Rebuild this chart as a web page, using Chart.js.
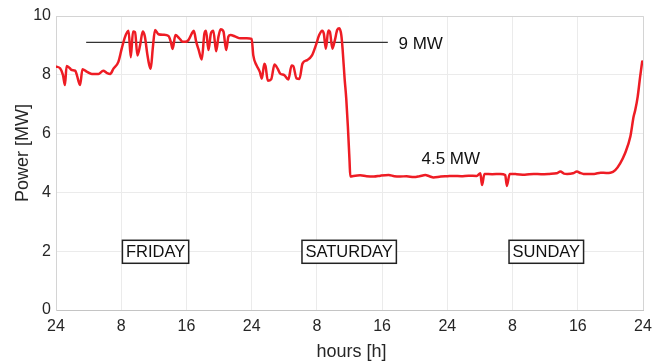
<!DOCTYPE html>
<html><head><meta charset="utf-8">
<script src="https://cdn.jsdelivr.net/npm/chart.js@4"></script>
<style>html,body{margin:0;padding:0;background:#fff;}canvas{display:block}</style>
</head><body>
<canvas id="c" width="666" height="361"></canvas>
<script>
const hours = [0,0.5,0.85,1.1,1.3,1.7,1.95,2.35,2.55,2.95,3.25,3.75,4.4,5.2,5.8,6.2,6.65,7.05,7.65,8.06,8.47,8.75,8.9,9.17,9.45,9.7,9.98,10.31,10.64,10.9,11.2,11.45,11.62,11.87,12.15,12.56,13.2,13.8,14.1,14.3,14.65,15.1,15.5,15.85,16.24,16.65,16.9,17.2,17.5,17.88,18.2,18.4,18.7,19.0,19.3,19.64,19.93,20.2,20.54,20.87,21.15,21.4,22.0,22.6,23.4,24.0,24.2,24.6,25.0,25.25,25.55,25.7,25.98,26.4,26.8,27.2,27.5,28.0,28.5,28.9,29.1,29.5,29.86,30.23,30.8,31.4,31.87,32.28,32.65,32.85,33.1,33.4,33.6,33.9,34.2,34.5,34.75,35.0,35.15,35.4,35.6,35.8,36.0,36.1,36.5,37.3,38.1,39.0,39.8,40.8,41.5,42.2,43.0,43.9,44.6,45.3,45.8,46.3,47.2,48.0,48.8,49.7,50.6,51.6,52.05,52.25,52.55,53.5,54.5,55.1,55.3,55.65,56.5,57.5,58.6,59.5,60.5,61.4,61.87,62.3,62.7,63.4,63.9,64.3,64.7,65.5,66.0,66.8,67.5,68.0,68.6,69.2,69.8,70.45,70.85,71.05,71.35,71.65,71.9];
const powerMW = [8.28,8.22,8.0,7.65,8.3,8.22,8.16,8.14,8.0,7.65,8.19,8.11,8.03,8.03,8.14,8.07,8.03,8.21,8.44,8.89,9.29,9.46,9.5,8.6,9.47,9.45,8.66,9.0,9.47,9.3,8.7,8.32,8.21,8.9,9.52,9.38,9.36,9.32,9.1,8.88,9.35,9.25,9.13,9.12,9.18,9.4,9.5,9.12,8.85,8.52,9.4,9.5,8.84,9.41,9.5,8.8,9.3,9.55,9.47,8.84,9.3,9.35,9.3,9.24,9.24,9.22,8.66,8.32,8.1,7.87,8.38,8.3,7.8,7.85,8.35,8.2,8.04,7.99,7.84,8.32,8.3,7.88,7.86,8.38,8.5,8.66,9.0,9.35,9.5,9.4,8.89,9.51,9.46,8.89,9.17,9.53,9.58,9.34,8.89,7.87,7.2,6.24,5.1,4.54,4.56,4.58,4.55,4.54,4.57,4.59,4.55,4.54,4.55,4.52,4.55,4.59,4.55,4.51,4.54,4.55,4.56,4.55,4.57,4.56,4.65,4.25,4.63,4.62,4.63,4.59,4.22,4.63,4.62,4.6,4.63,4.62,4.63,4.65,4.71,4.64,4.63,4.65,4.71,4.66,4.63,4.63,4.63,4.67,4.66,4.67,4.76,4.99,5.33,5.9,6.58,6.8,7.26,7.94,8.45];
const refLineHours = [3.7, 40.7];
const refLineMW = [9.1, 9.1];
const xTicks = [0,8,16,24,32,40,48,56,64,72];
const xTickLabels = ['24','8','16','24','8','16','24','8','16','24'];
const yTicks = [0,2,4,6,8,10];
const noteTexts = ['9 MW','4.5 MW'];
const noteHours = [44.73, 48.42];
const noteMW = [9.05, 5.14];
const dayNames = ['FRIDAY','SATURDAY','SUNDAY'];
const dayHours = [12.21, 35.96, 60.14];
const dayMW = [1.98, 1.98, 1.98];
const xTitle = 'hours [h]';
const yTitle = 'Power [MW]';

const FONT = "'Liberation Sans', Arial, Helvetica, sans-serif";

const overlay = {
  id: 'overlay',
  afterDatasetsDraw(chart) {
    const c = chart.ctx, xs = chart.scales.x, ys = chart.scales.y, a = chart.chartArea;
    c.save();
    c.strokeStyle = '#d4d4d4'; c.lineWidth = 1;
    c.beginPath();
    c.moveTo(a.left, a.top + 0.5); c.lineTo(a.right + 0.5, a.top + 0.5); c.lineTo(a.right + 0.5, a.bottom);
    c.stroke();
    c.fillStyle = '#111';
    c.font = '17px ' + FONT;
    c.textAlign = 'center'; c.textBaseline = 'middle';
    noteTexts.forEach((t, i) => {
      c.fillText(t, xs.getPixelForValue(noteHours[i]), ys.getPixelForValue(noteMW[i]));
    });
    c.font = '16.5px ' + FONT;
    dayNames.forEach((t, i) => {
      const cx = xs.getPixelForValue(dayHours[i]), cy = ys.getPixelForValue(dayMW[i]);
      const w = c.measureText(t).width + 7, h = 23;
      c.fillStyle = '#fff';
      c.fillRect(cx - w / 2, cy - h / 2, w, h);
      c.strokeStyle = '#222'; c.lineWidth = 1.5;
      c.strokeRect(cx - w / 2, cy - h / 2, w, h);
      c.fillStyle = '#111';
      c.fillText(t, cx, cy + 1);
    });
    c.restore();
  },
  afterDraw(chart) {
    const c = chart.ctx, a = chart.chartArea;
    c.save();
    c.fillStyle = '#262626';
    c.font = '18px ' + FONT;
    c.textAlign = 'center'; c.textBaseline = 'alphabetic';
    c.fillText(xTitle, (a.left + a.right) / 2 + 2, 357);
    c.translate(27.5, 153);
    c.rotate(-Math.PI / 2);
    c.fillText(yTitle, 0, 0);
    c.restore();
  }
};

new Chart(document.getElementById('c'), {
  type: 'line',
  data: {
    datasets: [
      {
        data: hours.map((h, i) => ({ x: h, y: powerMW[i] })),
        borderColor: '#ee1c24', borderWidth: 2.5, pointRadius: 0,
        cubicInterpolationMode: 'monotone', borderJoinStyle: 'round', borderCapStyle: 'round', fill: false
      },
      {
        data: refLineHours.map((h, i) => ({ x: h, y: refLineMW[i] })),
        borderColor: '#333', borderWidth: 1.2, pointRadius: 0, tension: 0, fill: false
      }
    ]
  },
  options: {
    responsive: false, animation: false, devicePixelRatio: 1,
    layout: { padding: { top: 16, right: 23, left: 0, bottom: 0 } },
    plugins: { legend: { display: false }, tooltip: { enabled: false } },
    scales: {
      x: {
        type: 'linear', min: 0, max: 72,
        afterBuildTicks: s => { s.ticks = xTicks.map(v => ({ value: v })); },
        afterFit: s => { s.height = 51; },
        ticks: {
          callback: v => xTickLabels[xTicks.indexOf(v)],
          color: '#262626', font: { size: 16, family: FONT }, padding: 7, maxRotation: 0, autoSkip: false
        },
        grid: { color: '#ebebeb', drawTicks: false },
        border: { color: '#c4c4c4' }
      },
      y: {
        type: 'linear', min: 0, max: 10,
        afterBuildTicks: s => { s.ticks = yTicks.map(v => ({ value: v })); },
        afterFit: s => { s.width = 56; },
        ticks: { color: '#262626', font: { size: 16, family: FONT }, padding: 5 },
        grid: { color: '#ebebeb', drawTicks: false },
        border: { color: '#d4d4d4' }
      }
    }
  },
  plugins: [overlay]
});
</script>
</body></html>
